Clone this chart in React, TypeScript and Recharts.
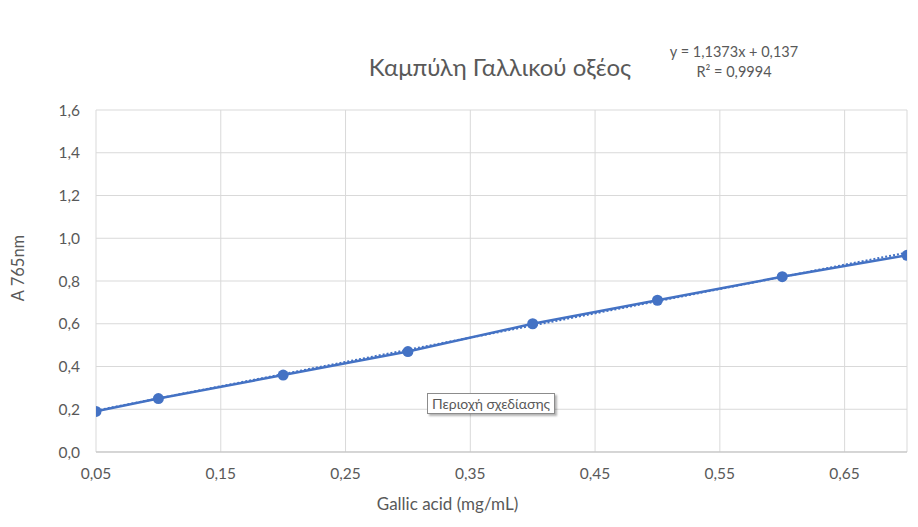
import { LineChart, Line, XAxis, YAxis, CartesianGrid } from 'recharts'

// Gallic acid calibration curve
const concentrations = [0.05, 0.1, 0.2, 0.3, 0.4, 0.5, 0.6, 0.7]
const absorbances = [0.19, 0.25, 0.36, 0.47, 0.6, 0.71, 0.82, 0.92]

// trendline endpoints
const trendX = [0.05, 0.7]
const trendY = [0.194, 0.933]

const xTicks = [0.05, 0.15, 0.25, 0.35, 0.45, 0.55, 0.65]
const yTicks = [0, 0.2, 0.4, 0.6, 0.8, 1.0, 1.2, 1.4, 1.6]

const points = concentrations.map((x, i) => ({ x, y: absorbances[i] }))
const trend = trendX.map((x, i) => ({ x, y: trendY[i] }))

const BLUE = '#4472c4'
const TEXT = '#595959'
const FONT = 'Lato, "Open Sans", sans-serif'

const fmt = (digits: number) => (v: number) => v.toFixed(digits).replace('.', ',')

const XLabel = ({ viewBox }: { viewBox?: { x: number; y: number; width: number; height: number } }) => {
  if (!viewBox) return null
  return (
    <text x={viewBox.x + viewBox.width / 2 - 54} y={503} fill={TEXT} fontSize={17} fontFamily={FONT} textAnchor="middle" dominantBaseline="central">
      Gallic acid (mg/mL)
    </text>
  )
}

const YLabel = ({ viewBox }: { viewBox?: { x: number; y: number; width: number; height: number } }) => {
  if (!viewBox) return null
  const cy = viewBox.y + viewBox.height / 2 - 13
  return (
    <text x={18} y={cy} transform={`rotate(-90 18 ${cy})`} fill={TEXT} fontSize={16.5} fontFamily={FONT} textAnchor="middle" dominantBaseline="central">
      A 765nm
    </text>
  )
}

export default function App() {
  return (
    <div style={{ position: 'absolute', left: 0, top: 0, width: 918, height: 527, background: '#fff', fontFamily: FONT }}>
      <LineChart width={918} height={527} margin={{ top: 110, right: 11, bottom: 28, left: 0 }}>
        <CartesianGrid stroke="#d9d9d9" strokeWidth={1} />
        <XAxis
          type="number"
          dataKey="x"
          domain={[0.05, 0.7]}
          ticks={xTicks}
          tickFormatter={fmt(2)}
          allowDataOverflow
          stroke="#bfbfbf"
          tickLine={false}
          tickSize={0}
          tickMargin={16}
          height={47}
          tick={{ fill: TEXT, fontSize: 15.5, fontFamily: FONT }}
          label={<XLabel />}
        />
        <YAxis
          type="number"
          dataKey="y"
          domain={[0, 1.6]}
          ticks={yTicks}
          tickFormatter={fmt(1)}
          axisLine={false}
          tickLine={false}
          tickSize={0}
          tickMargin={16}
          width={96}
          tick={{ fill: TEXT, fontSize: 15.5, fontFamily: FONT }}
          label={<YLabel />}
        />
        <Line
          data={trend}
          dataKey="y"
          stroke={BLUE}
          strokeWidth={2}
          strokeDasharray="2 2"
          dot={false}
          isAnimationActive={false}
        />
        <Line
          data={points}
          dataKey="y"
          stroke={BLUE}
          strokeWidth={2.5}
          dot={{ r: 5.5, fill: BLUE, stroke: BLUE, strokeWidth: 0 }}
          isAnimationActive={false}
        />
      </LineChart>
      <div style={{ position: 'absolute', left: 0, width: 1000, top: 52, textAlign: 'center', fontSize: 24, color: TEXT }}>
        Καμπύλη Γαλλικού οξέος
      </div>
      <div style={{ position: 'absolute', left: 664, top: 42, width: 140, textAlign: 'center', fontSize: 14.5, lineHeight: '20px', color: TEXT }}>
        y = 1,1373x + 0,137
        <br />
        R² = 0,9994
      </div>
      <div
        style={{
          position: 'absolute',
          left: 427,
          top: 393,
          padding: '1px 4px',
          border: '1px solid #8c8c8c',
          background: '#fff',
          fontSize: 14,
          color: TEXT,
          boxShadow: '2px 2px 2px rgba(0,0,0,0.3)',
        }}
      >
        Περιοχή σχεδίασης
      </div>
    </div>
  )
}
